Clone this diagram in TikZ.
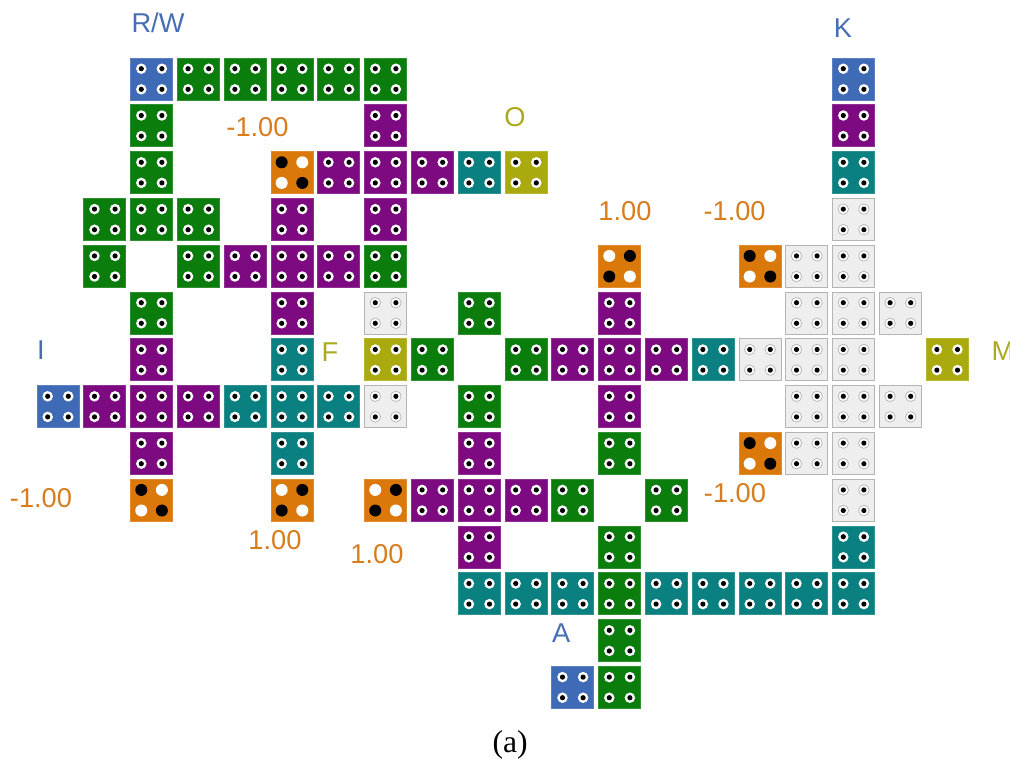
\documentclass[tikz,border=0pt]{standalone}
\usepackage{fontspec}
\setmainfont{Liberation Serif}
\setsansfont{Liberation Sans}
\definecolor{pegblue}{RGB}{63,106,182}
\definecolor{peggreen}{RGB}{10,125,12}
\definecolor{pegpurple}{RGB}{125,10,128}
\definecolor{pegteal}{RGB}{10,128,128}
\definecolor{pegolive}{RGB}{170,170,15}
\definecolor{pegorange}{RGB}{218,120,10}
\definecolor{pegoff}{RGB}{238,238,238}
\definecolor{pegedge}{RGB}{180,180,180}
\definecolor{lblblue}{RGB}{70,110,180}
\definecolor{lblorange}{RGB}{215,125,30}
\definecolor{lblolive}{RGB}{170,170,30}

% four pegs: #1 options of the ring, #2 colour of the centre
\newcommand{\pegs}[2]{%
  \foreach \dx/\dy in {-1/1,1/1,-1/-1,1/-1}{
    \path[#1] ([shift={(\dx*0.206cm,\dy*0.206cm)}]path picture bounding box.center) circle (0.105cm);
    \fill[#2] ([shift={(\dx*0.206cm,\dy*0.206cm)}]path picture bounding box.center) circle (0.052cm);}}
% switch pegs: #1 top left and bottom right, #2 the other two
\newcommand{\swpegs}[2]{%
  \foreach \dx/\dy/\cl in {-1/1/#1,1/1/#2,-1/-1/#2,1/-1/#1}
    \fill[\cl] ([shift={(\dx*0.206cm,\dy*0.206cm)}]path picture bounding box.center) circle (0.12cm);}

\begin{document}
\begin{tikzpicture}[
  x=0.936cm, y=-0.936cm,
  tile/.style={minimum size=0.84cm, inner sep=0pt, outer sep=0pt,
               line width=0.5pt, fill=#1, draw=#1!85!white},
  peg/.style={tile=#1, path picture={\pegs{fill=white}{black}}},
  offpeg/.style={minimum size=0.84cm, inner sep=0pt, outer sep=0pt,
                 line width=0.5pt, fill=pegoff, draw=pegedge,
                 path picture={\pegs{fill=white, draw=pegedge, line width=0.4pt}{black}}},
  swA/.style={tile=pegorange, path picture={\swpegs{black}{white}}},
  swB/.style={tile=pegorange, path picture={\swpegs{white}{black}}},
  lbl/.style={font=\sffamily\fontsize{15.5}{18}\selectfont, inner sep=0pt}
]
  \useasboundingbox (-1.239,-1.688) rectangle (20.342,14.509);

  % tiles, column/row
  \foreach \c/\r in {2/0,17/0,0/7,11/13}
    \node[peg=pegblue] (t\c-\r) at (\c,\r) {};
  \foreach \c/\r in {3/0,4/0,5/0,6/0,7/0,2/1,2/2,1/3,2/3,3/3,1/4,3/4,7/4,
                     2/5,9/5,8/6,10/6,9/7,12/8,11/9,13/9,12/10,12/11,12/12,12/13}
    \node[peg=peggreen] (t\c-\r) at (\c,\r) {};
  \foreach \c/\r in {7/1,17/1,6/2,7/2,8/2,5/3,7/3,4/4,5/4,6/4,5/5,12/5,
                     2/6,11/6,12/6,13/6,1/7,2/7,3/7,12/7,2/8,9/8,8/9,9/9,10/9,9/10}
    \node[peg=pegpurple] (t\c-\r) at (\c,\r) {};
  \foreach \c/\r in {9/2,17/2,5/6,14/6,4/7,5/7,6/7,5/8,17/10,
                     9/11,10/11,11/11,13/11,14/11,15/11,16/11,17/11}
    \node[peg=pegteal] (t\c-\r) at (\c,\r) {};
  \foreach \c/\r in {10/2,7/6,19/6}
    \node[peg=pegolive] (t\c-\r) at (\c,\r) {};
  \foreach \c/\r in {17/3,16/4,17/4,7/5,16/5,17/5,18/5,15/6,16/6,17/6,
                     7/7,16/7,17/7,18/7,16/8,17/8,17/9}
    \node[offpeg] (t\c-\r) at (\c,\r) {};
  \foreach \c/\r in {5/2,15/4,15/8,2/9}
    \node[swA] (t\c-\r) at (\c,\r) {};
  \foreach \c/\r in {12/4,5/9,7/9}
    \node[swB] (t\c-\r) at (\c,\r) {};

  % labels
  \node[lbl, text=lblblue]   (rw)  at (2.137,-1.197) {R/W};
  \node[lbl, text=lblblue]   (k)   at (16.774,-1.09) {K};
  \node[lbl, text=lblblue]   (i)   at (-0.363,5.79)  {I};
  \node[lbl, text=lblblue]   (a)   at (10.75,11.84)  {A};
  \node[lbl, text=lblolive]  (o)   at (9.765,0.812)  {O};
  \node[lbl, text=lblolive]  (f)   at (5.81,5.83)    {F};
  \node[lbl, text=lblolive, anchor=west] (m) at (19.94,5.81) {M};
  \node[lbl, text=lblorange] (w1)  at (4.263,1.026)  {-1.00};
  \node[lbl, text=lblorange] (w2)  at (12.115,2.82)  {1.00};
  \node[lbl, text=lblorange] (w3)  at (14.457,2.82)  {-1.00};
  \node[lbl, text=lblorange] (w4)  at (-0.363,8.95)  {-1.00};
  \node[lbl, text=lblorange] (w5)  at (4.637,9.85)   {1.00};
  \node[lbl, text=lblorange] (w6)  at (6.816,10.15)  {1.00};
  \node[lbl, text=lblorange] (w7)  at (14.466,8.85)  {-1.00};

  \node[inner sep=0pt, font=\fontsize{18}{20}\selectfont] (cap) at (9.66,14.23) {(a)};
\end{tikzpicture}
\end{document}
